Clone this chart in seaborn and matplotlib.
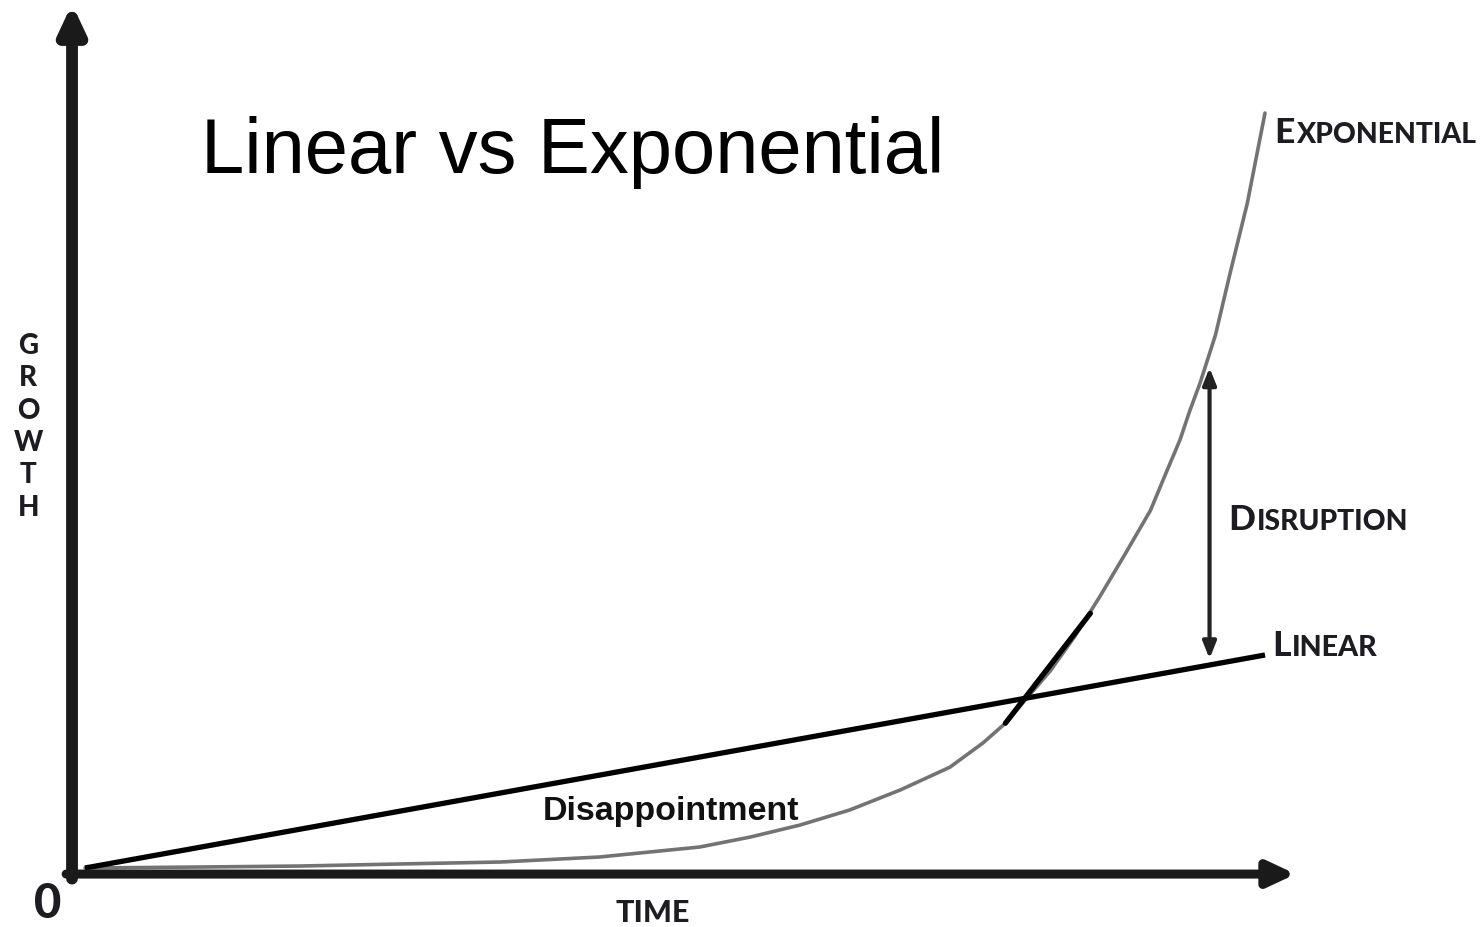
import matplotlib
matplotlib.use("Agg")
import matplotlib.pyplot as plt
import seaborn as sns
import pandas as pd

# ---- data ----
time_lin = [0.0, 10.0]
growth_lin = [0.0, 28.1]

time_exp = [0.0, 0.98, 1.82, 2.67, 3.52, 4.36, 5.21, 5.64, 6.06, 6.48, 6.91, 7.33, 7.61,
            7.80, 7.97, 8.18, 8.39, 8.60, 8.81, 9.03, 9.15, 9.28, 9.36, 9.45, 9.58,
            9.70, 9.85, 10.0]
growth_exp = [0.0, 0.13, 0.26, 0.53, 0.79, 1.45, 2.77, 4.09, 5.67, 7.65, 10.3, 13.3, 16.5,
              19.1, 22.2, 26.0, 30.6, 35.8, 41.3, 47.2, 51.7, 56.5, 60.2, 64.0, 70.3,
              78.2, 87.7, 99.6]

time_tangent = [7.8, 8.52]
growth_tangent = [19.1, 33.6]

disruption_t = 9.53
disruption_range = [27.6, 66.0]

title = "Linear vs Exponential"

sns.set_style("white")
plt.rcParams['font.family'] = ['Lato', 'DejaVu Sans']

fig = plt.figure(figsize=(14.84, 9.27), dpi=100)
ax = fig.add_axes([0, 0, 1, 1])
ax.set_xlim(-85 / 118, (1484 - 85) / 118)
ax.set_ylim((868 - 927) / 7.58, 868 / 7.58)
ax.axis("off")

ink = "#1d1c22"

# axes arrows
x0, y0 = -0.11, -0.8
ax.annotate("", xy=(x0, 114.0), xytext=(x0, -1.4),
            arrowprops=dict(arrowstyle="-|>,head_length=1.6,head_width=0.75", lw=8.5,
                            color="#1a1a1a", shrinkA=0, shrinkB=0))
ax.annotate("", xy=(10.26, y0), xytext=(-0.16, y0),
            arrowprops=dict(arrowstyle="-|>,head_length=1.6,head_width=0.75", lw=6.5,
                            color="#1a1a1a", shrinkA=0, shrinkB=0))

# lines
df_exp = pd.DataFrame({"time": time_exp, "growth": growth_exp})
sns.lineplot(data=df_exp, x="time", y="growth", ax=ax, color="#737373", lw=2.6, sort=False,
             solid_joinstyle="round")
df_lin = pd.DataFrame({"time": time_lin, "growth": growth_lin})
sns.lineplot(data=df_lin, x="time", y="growth", ax=ax, color="black", lw=3.8,
             solid_capstyle="butt")
df_tan = pd.DataFrame({"time": time_tangent, "growth": growth_tangent})
sns.lineplot(data=df_tan, x="time", y="growth", ax=ax, color="black", lw=3.8)

# disruption arrow
ax.annotate("", xy=(disruption_t, disruption_range[1]), xytext=(disruption_t, disruption_range[0]),
            arrowprops=dict(arrowstyle="<|-|>,head_length=1.0,head_width=0.4", lw=3,
                            color="#222222", shrinkA=0, shrinkB=0))

# title
ax.text(4.13, 91.7, title, fontsize=56, family=['Liberation Sans', 'DejaVu Sans'],
        ha="center", va="baseline", color="black")


def small_caps(x, y, word, big, small, weight="black"):
    t1 = ax.text(x, y, word[0], fontsize=big, fontweight=weight, color=ink,
                 ha="left", va="baseline")
    fig.canvas.draw()
    bb = t1.get_window_extent()
    xd = ax.transData.inverted().transform((bb.x1, bb.y0))[0]
    ax.text(xd + 0.01, y, word[1:], fontsize=small, fontweight=weight, color=ink,
            ha="left", va="baseline")


small_caps(10.08, 95.7, "EXPONENTIAL", 25.5, 20.3)
small_caps(9.69, 44.6, "DISRUPTION", 25.5, 20.3)
small_caps(10.06, 28.0, "LINEAR", 25.5, 20.6)

ax.text(-0.48, 58.2, "G\nR\nO\nW\nT\nH", fontsize=20, fontweight="black", color=ink,
        ha="center", va="center", linespacing=1.3)
ax.text(-0.32, -4.7, "0", fontsize=34, fontweight="black", color=ink, ha="center", va="center")
ax.text(4.81, -6.0, "TIME", fontsize=22, fontweight="black", color=ink, ha="center", va="center")
ax.text(4.97, 6.3, "Disappointment", fontsize=24.5, fontweight="bold",
        family=['Liberation Sans', 'DejaVu Sans'], color="#111111", ha="center", va="baseline")

fig.savefig("out.png", dpi=100, facecolor="white")
